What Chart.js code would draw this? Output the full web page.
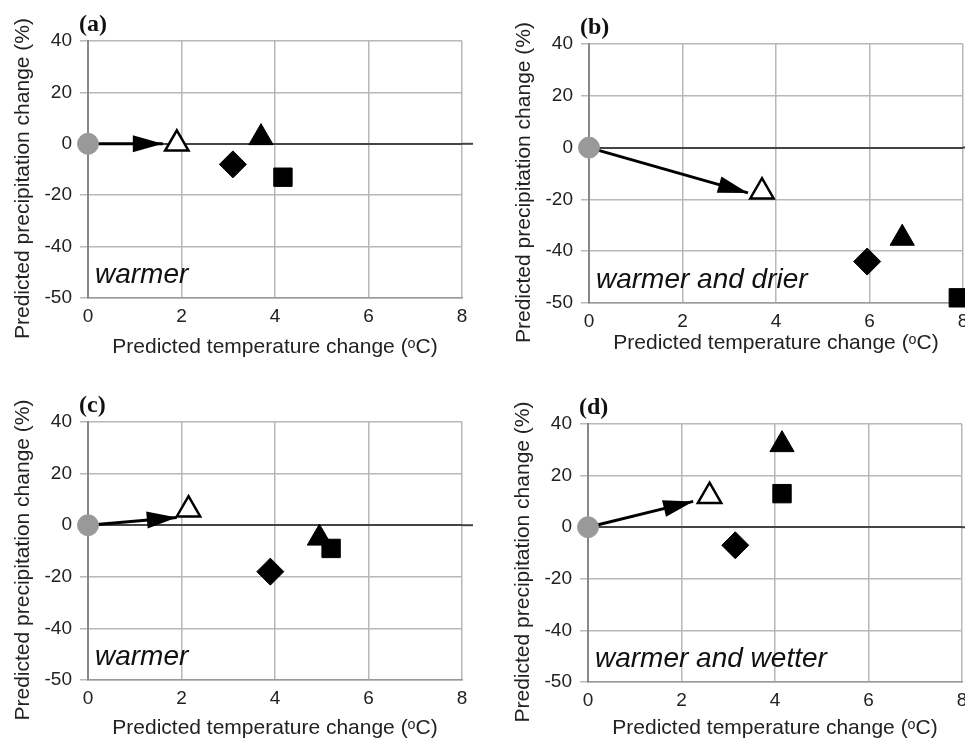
<!DOCTYPE html>
<html>
<head>
<meta charset="utf-8">
<script src="https://cdn.jsdelivr.net/npm/chart.js@4.4.1/dist/chart.umd.min.js"></script>
<style>
  body { margin: 0; background: #fff; width: 965px; height: 739px; overflow: hidden; position: relative; }
  .panel { position: absolute; }
</style>
</head>
<body>
<div class="panel" id="panelA"><canvas id="chartA"></canvas></div>
<div class="panel" id="panelB"><canvas id="chartB"></canvas></div>
<div class="panel" id="panelC"><canvas id="chartC"></canvas></div>
<div class="panel" id="panelD"><canvas id="chartD"></canvas></div>
<script>
// panels (a)..(d)
const panelLetters = ['(a)', '(b)', '(c)', '(d)'];
const panelNotes = ['warmer', 'warmer and drier', 'warmer', 'warmer and wetter'];
const xTickValues = [0, 2, 4, 6, 8];
const yTickValues = [-50, -40, -20, 0, 20, 40];

// one value per panel; T = temperature change (ºC), P = precipitation change (%)
const originT = [0, 0, 0, 0];
const originP = [0, 0, 0, 0];
const arrowTipT = [1.6, 3.4, 1.9, 2.25];
const arrowTipP = [0, -17.5, 3, 10];
const openTriangleT = [1.9, 3.7, 2.15, 2.6];
const openTriangleP = [0, -17, 6, 12];
const filledTriangleT = [3.7, 6.7, 4.95, 4.15];
const filledTriangleP = [2.4, -35, -5, 32];
const diamondT = [3.1, 5.95, 3.9, 3.15];
const diamondP = [-8, -42, -18, -7];
const squareT = [4.17, 7.9, 5.2, 4.15];
const squareP = [-13, -49, -9, 13];

const panelIds = ['chartA', 'chartB', 'chartC', 'chartD'];
const panelBoxes = [
    { left: 0, top: 0, width: 480, chartLeft: 88, chartTop: 41, chartRight: 462, chartBottom: 298, xTitleY: 347 },
    { left: 501, top: 0, width: 464, chartLeft: 589, chartTop: 44, chartRight: 963, chartBottom: 303, xTitleY: 343 },
    { left: 0, top: 370, width: 480, chartLeft: 88, chartTop: 422, chartRight: 462, chartBottom: 680, xTitleY: 728 },
    { left: 500, top: 370, width: 465, chartLeft: 588, chartTop: 424, chartRight: 962, chartBottom: 682, xTitleY: 728 }
];
const canvasHeight = 380;
const yAxisWidth = 88;
const titleSize = 21;
const tickSize = 19;
const fontFamily = '"Liberation Sans", Arial, sans-serif';

// the y axis in the figure gives -50..-40 the same height as a 20 % step
const Warp = v => v < -40 ? -40 + (v + 40) * 2 : v;
const Unwarp = t => t < -40 ? -40 + (t + 40) / 2 : t;

class BrokenLinearScale extends Chart.LinearScale {
    getPixelForValue(value) {
        const t0 = Warp(this.min), t1 = Warp(this.max);
        return this.getPixelForDecimal((Warp(value) - t0) / (t1 - t0));
    }
    getValueForPixel(pixel) {
        const t0 = Warp(this.min), t1 = Warp(this.max);
        return Unwarp(t0 + this.getDecimalForPixel(pixel) * (t1 - t0));
    }
    drawTitle() {
        // the figure sets its y title a bit below the middle of the axis
        this.ctx.save();
        this.ctx.translate(0, 9);
        super.drawTitle();
        this.ctx.restore();
    }
}
BrokenLinearScale.id = 'brokenLinear';
BrokenLinearScale.defaults = Chart.LinearScale.defaults;
Chart.register(BrokenLinearScale);

const panelDecor = {
    id: 'panelDecor',
    afterDatasetsDraw(chart, args, opts) {
        // arrow head at the end of the arrow line
        const meta = chart.getDatasetMeta(1);
        const p0 = meta.data[0], p1 = meta.data[1];
        const angle = Math.atan2(p1.y - p0.y, p1.x - p0.x);
        const len = 30, half = 8.5;
        const ctx = chart.ctx;
        ctx.save();
        ctx.translate(p1.x, p1.y);
        ctx.rotate(angle);
        ctx.beginPath();
        ctx.moveTo(0, 0);
        ctx.lineTo(-len, -half);
        ctx.lineTo(-len, half);
        ctx.closePath();
        ctx.fillStyle = '#000';
        ctx.fill();
        ctx.restore();
    },
    afterDraw(chart, args, opts) {
        const ctx = chart.ctx;
        const area = chart.chartArea;
        const zeroY = chart.scales.y.getPixelForValue(0);
        ctx.save();
        // zero line runs a little past the last grid line
        ctx.strokeStyle = '#444';
        ctx.lineWidth = 2;
        ctx.beginPath();
        ctx.moveTo(area.right, zeroY);
        ctx.lineTo(area.right + 11, zeroY);
        ctx.stroke();

        ctx.fillStyle = '#111';
        ctx.textBaseline = 'alphabetic';
        ctx.font = 'bold 24px "Liberation Serif", "Times New Roman", serif';
        ctx.fillText(opts.letter, area.left - 9, area.top - 10);

        ctx.fillStyle = '#111';
        ctx.font = 'italic 28px ' + fontFamily;
        ctx.fillText(opts.note, area.left + 7, area.bottom - 15);
        ctx.restore();
    }
};

function BuildDatasets(i) {
    return [
        {
            label: 'baseline',
            data: [{ x: originT[i], y: originP[i] }],
            pointStyle: 'circle',
            pointRadius: 10.5,
            backgroundColor: '#999',
            borderColor: '#999',
            order: 0
        },
        {
            label: 'arrow',
            data: [{ x: originT[i], y: originP[i] }, { x: arrowTipT[i], y: arrowTipP[i] }],
            showLine: true,
            borderColor: '#000',
            borderWidth: 3,
            pointRadius: 0,
            order: 5
        },
        {
            label: 'open triangle',
            data: [{ x: openTriangleT[i], y: openTriangleP[i] }],
            pointStyle: 'triangle',
            pointRadius: 13.5,
            backgroundColor: '#fff',
            borderColor: '#000',
            borderWidth: 2.5,
            order: 1
        },
        {
            label: 'filled triangle',
            data: [{ x: filledTriangleT[i], y: filledTriangleP[i] }],
            pointStyle: 'triangle',
            pointRadius: 14,
            backgroundColor: '#000',
            borderColor: '#000',
            order: 2
        },
        {
            label: 'diamond',
            data: [{ x: diamondT[i], y: diamondP[i] }],
            pointStyle: 'rectRot',
            pointRadius: 13.5,
            backgroundColor: '#000',
            borderColor: '#000',
            order: 3
        },
        {
            label: 'square',
            data: [{ x: squareT[i], y: squareP[i] }],
            pointStyle: 'rect',
            pointRadius: 13,
            backgroundColor: '#000',
            borderColor: '#000',
            order: 4
        }
    ];
}

function LoadPanel(i) {
    const box = panelBoxes[i];
    const holder = document.getElementById(panelIds[i]).parentElement;
    holder.style.left = box.left + 'px';
    holder.style.top = box.top + 'px';

    const canvas = document.getElementById(panelIds[i]);
    canvas.width = box.width;
    canvas.height = canvasHeight;

    const xAxisHeight = box.top + canvasHeight - box.chartBottom;
    const xTitlePad = xAxisHeight - (box.xTitleY - box.chartBottom) - titleSize * 1.2 / 2;

    const datasets = BuildDatasets(i);
    datasets.forEach(d => { d.clip = false; });

    new Chart(canvas.getContext('2d'), {
        type: 'scatter',
        data: { datasets: datasets },
        options: {
            responsive: false,
            animation: false,
            events: [],
            layout: {
                autoPadding: false,
                padding: {
                    left: box.chartLeft - box.left - yAxisWidth,
                    right: box.left + box.width - box.chartRight,
                    top: box.chartTop - box.top,
                    bottom: 0
                }
            },
            plugins: {
                legend: { display: false },
                tooltip: { enabled: false },
                panelDecor: { letter: panelLetters[i], note: panelNotes[i] }
            },
            scales: {
                x: {
                    type: 'linear',
                    min: 0,
                    max: 8,
                    afterBuildTicks: scale => { scale.ticks = xTickValues.map(v => ({ value: v })); },
                    afterFit: scale => {
                        scale.height = xAxisHeight;
                        scale.paddingLeft = 0;
                        scale.paddingRight = 0;
                    },
                    ticks: {
                        color: '#222',
                        font: { family: fontFamily, size: tickSize },
                        padding: 7,
                        maxRotation: 0,
                        callback: v => String(v)
                    },
                    grid: {
                        drawTicks: false,
                        color: ctx => ctx.tick && ctx.tick.value === 0 ? '#888' : '#b8b8b8',
                        lineWidth: ctx => ctx.tick && ctx.tick.value === 0 ? 2 : 1.5
                    },
                    border: { display: true, color: '#9a9a9a', width: 1.5 },
                    title: {
                        display: true,
                        text: 'Predicted temperature change (ᵒC)',
                        color: '#222',
                        font: { family: fontFamily, size: titleSize },
                        padding: { top: 0, bottom: xTitlePad }
                    }
                },
                y: {
                    type: 'brokenLinear',
                    min: -50,
                    max: 40,
                    afterBuildTicks: scale => { scale.ticks = yTickValues.map(v => ({ value: v })); },
                    afterFit: scale => {
                        scale.width = yAxisWidth;
                        scale.paddingTop = 0;
                        scale.paddingBottom = 0;
                    },
                    ticks: {
                        color: '#222',
                        font: { family: fontFamily, size: tickSize },
                        padding: 8,
                        callback: v => String(v)
                    },
                    grid: {
                        tickLength: 8,
                        color: ctx => ctx.tick && ctx.tick.value === 0 ? '#444' : '#b8b8b8',
                        lineWidth: ctx => ctx.tick && ctx.tick.value === 0 ? 2 : 1.5
                    },
                    border: { display: true, color: '#888', width: 2 },
                    title: {
                        display: true,
                        text: 'Predicted precipitation change (%)',
                        color: '#222',
                        font: { family: fontFamily, size: titleSize },
                        padding: { top: 10.4, bottom: 0 }
                    }
                }
            }
        },
        plugins: [panelDecor]
    });
}

for (let i = 0; i < 4; i++) {
    LoadPanel(i);
}
</script>
</body>
</html>
